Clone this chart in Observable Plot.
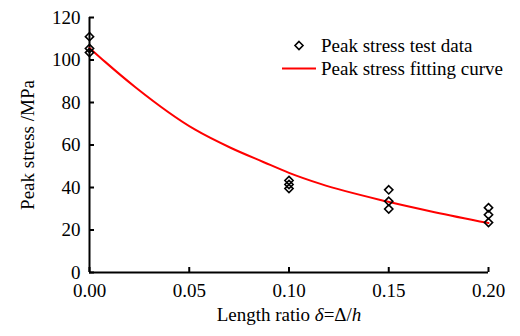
<!DOCTYPE html>
<html>
<head>
<meta charset="utf-8">
<script src="https://cdn.jsdelivr.net/npm/d3@7"></script>
<script src="https://cdn.jsdelivr.net/npm/@observablehq/plot@0.6"></script>
<style>
  html, body { margin: 0; padding: 0; background: #fff; }
  #wrap { position: relative; width: 520px; height: 336px; font-family: "Liberation Serif", "Times New Roman", serif; color: #000; }
  #wrap svg, #wrap svg text { font-family: "Liberation Serif", "Times New Roman", serif !important; font-size: 19px !important; font-variant: normal !important; }
  #legend { position: absolute; left: 281px; top: 34px; font-size: 19px; line-height: 23px; }
  #legend .row { display: flex; align-items: center; white-space: nowrap; }
  #legend svg { width: 36px; height: 23px; margin-right: 4px; }
</style>
</head>
<body>
<div id="wrap"></div>
<script>
// ---- data ----
const xTicks = [0, 0.05, 0.10, 0.15, 0.20];
const yTicks = [0, 20, 40, 60, 80, 100, 120];

// peak stress test data (length ratio, MPa)
const testX = [0, 0, 0, 0.10, 0.10, 0.10, 0.15, 0.15, 0.15, 0.20, 0.20, 0.20];
const testY = [111, 105.4, 103.5, 43.3, 41.4, 39.5, 38.9, 33.5, 29.9, 30.5, 27.2, 23.5];

// peak stress fitting curve
const fitX = [0, 0.008, 0.023, 0.053, 0.0707, 0.0874, 0.100, 0.1158, 0.1492, 0.173, 0.200];
const fitY = [105.7, 99.0, 87.2, 67.2, 58.7, 51.9, 46.9, 41.7, 33.4, 28.4, 23.3];

const legendLabels = ["Peak stress test data", "Peak stress fitting curve"];

const test = testX.map((x, i) => ({x, y: testY[i]}));
const fit = fitX.map((x, i) => ({x, y: fitY[i]}));

const chart = Plot.plot({
  width: 520,
  height: 336,
  marginLeft: 89,
  marginRight: 32,
  marginTop: 17,
  marginBottom: 64,
  style: {fontFamily: "'Liberation Serif', 'Times New Roman', serif", fontSize: "19px", color: "#000", background: "#fff", overflow: "visible"},
  x: {domain: [0, 0.2]},
  y: {domain: [0, 120]},
  marks: [
    Plot.axisX({ticks: xTicks, tickFormat: d3.format(".2f"), tickSize: -5, tickPadding: 16, strokeWidth: 2,
      label: "Length ratio δ=Δ/h", labelAnchor: "center", labelOffset: 48, labelArrow: false}),
    Plot.axisY({ticks: yTicks, tickFormat: d3.format("d"), tickSize: -5, tickPadding: 14, strokeWidth: 2,
      label: "Peak stress /MPa", labelAnchor: "center", labelOffset: 69, labelArrow: false}),
    Plot.ruleX([0], {stroke: "#000", strokeWidth: 2}),
    Plot.ruleY([0], {stroke: "#000", strokeWidth: 2}),
    Plot.line(fit, {x: "x", y: "y", stroke: "#ff0000", strokeWidth: 2, curve: "monotone-x"}),
    Plot.dot(test, {x: "x", y: "y", symbol: "diamond2", r: 3.7, stroke: "#000", strokeWidth: 1.6, fill: "none"})
  ]
});

const wrap = document.getElementById("wrap");
wrap.appendChild(chart);

const ns = "http://www.w3.org/2000/svg";
chart.querySelectorAll("g, text").forEach(el => {
  el.removeAttribute("font-variant");
  el.removeAttribute("font-family");
  el.style.fontFamily = "'Liberation Serif', serif";
});

// italicise δ and h in the x-axis label
chart.querySelectorAll("text").forEach(t => {
  if (t.textContent.trim() === "Length ratio δ=Δ/h") {
    const parts = [["Length ratio ", false], ["δ", true], ["=Δ/", false], ["h", true]];
    while (t.firstChild) t.removeChild(t.firstChild);
    for (const [s, it] of parts) {
      const sp = document.createElementNS(ns, "tspan");
      sp.textContent = s;
      if (it) sp.setAttribute("font-style", "italic");
      t.appendChild(sp);
    }
  }
});

// legend
const legend = document.createElement("div");
legend.id = "legend";
legend.innerHTML = `
  <div class="row"><svg viewBox="0 0 36 23"><path d="M18,7.5L22,11.5L18,15.5L14,11.5Z" fill="none" stroke="#000" stroke-width="1.6"/></svg><span>${legendLabels[0]}</span></div>
  <div class="row"><svg viewBox="0 0 36 23"><line x1="1" x2="35" y1="11.5" y2="11.5" stroke="#ff0000" stroke-width="2"/></svg><span>${legendLabels[1]}</span></div>`;
wrap.appendChild(legend);
</script>
</body>
</html>
